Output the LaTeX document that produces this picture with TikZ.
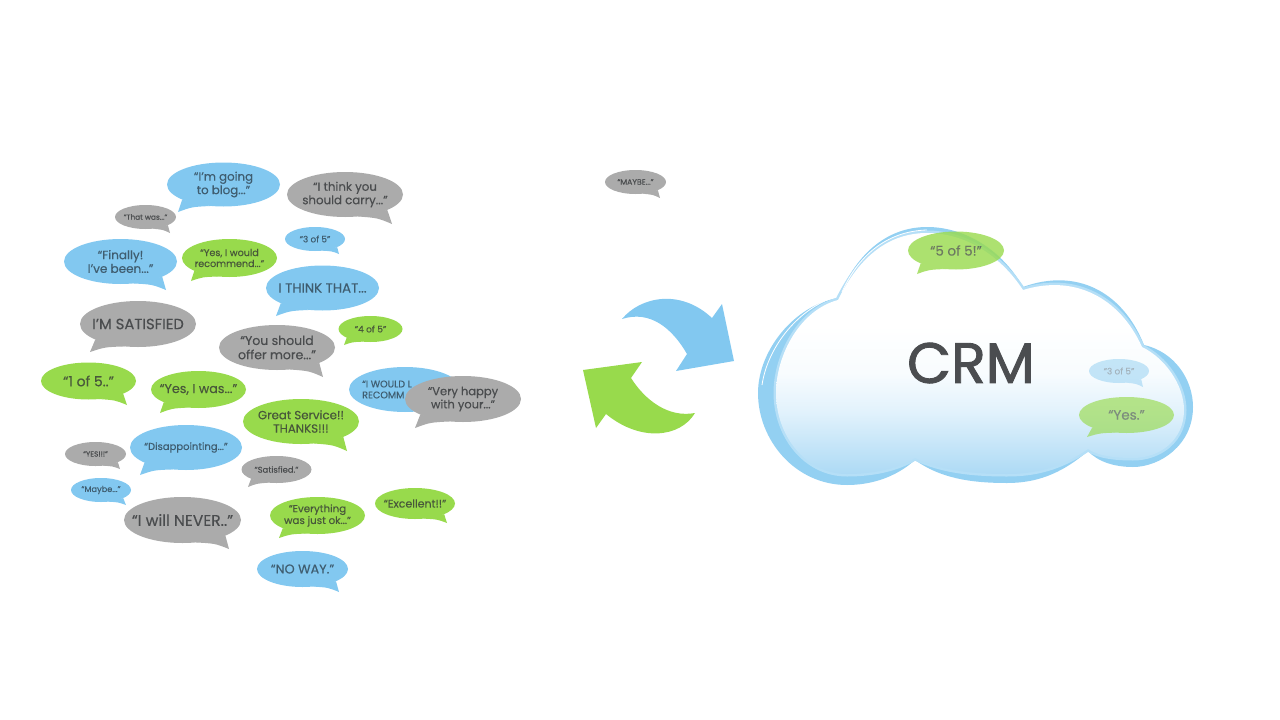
\documentclass[tikz,border=0pt]{standalone}
\usepackage{fontspec}
\setmainfont{Poppins}[FakeBold=0.35]
\newfontfamily\crmfont{Poppins}[FakeBold=1.6]
\usetikzlibrary{shapes.geometric,calc}
\definecolor{bblue}{HTML}{82C8F0}
\definecolor{bgreen}{HTML}{98DA4C}
\definecolor{bgrey}{HTML}{ABABAB}
\definecolor{tblue}{HTML}{3F5D70}
\definecolor{tgreen}{HTML}{48583A}
\definecolor{tgrey}{HTML}{4A4C4E}
\definecolor{crmtext}{HTML}{4B4D50}
\definecolor{rim}{HTML}{93D0F2}
\definecolor{rimsoft}{HTML}{B5DFF7}
\definecolor{cloudlow}{HTML}{ADDAF5}
\definecolor{cloudmid}{HTML}{E2F2FC}
\definecolor{cloudpale}{HTML}{F8FCFE}
\pgfdeclareverticalshading{cloudsh}{100bp}{color(0bp)=(cloudlow);color(25bp)=(cloudlow);color(38bp)=(cloudmid);color(46bp)=(cloudpale);color(56bp)=(white);color(100bp)=(white)}
\newcommand\saysize[1]{\fontsize{#1}{\dimexpr#1pt*114/100\relax}\selectfont}
\tikzset{
  bubble/.style={ellipse,inner sep=0pt,outer sep=0pt,draw=none},
  saytext/.style={inner sep=0pt,align=center,font=\saysize{#1}},
  blue bub/.style={bubble,fill=bblue},
  green bub/.style={bubble,fill=bgreen},
  grey bub/.style={bubble,fill=bgrey},
  blue txt/.style={text=tblue},
  green txt/.style={text=tgreen},
  grey txt/.style={text=tgrey},
}
\newcommand\tailL[3]{\fill[#3] (#1.200) -- (#2) .. controls ($(#2)!.5!(#1.240)!.22!(#1.200)$) .. (#1.240) -- cycle;}
\newcommand\tailR[3]{\fill[#3] (#1.340) -- (#2) .. controls ($(#2)!.5!(#1.300)!.22!(#1.340)$) .. (#1.300) -- cycle;}
% name, colour, centre, width, height, tip, side, size, text
\newcommand\bub[9]{%
  \node[#2 bub,minimum width=#4pt,minimum height=#5pt] (#1) at (#3) {};
  \csname tail#7\endcsname{#1}{#6}{b#2}
  \node[saytext=#8,#2 txt] (#1t) at (#1) {#9};
}
\def\innercloud{(838,300)
  .. controls (860,255) and (890,233) .. (927,233)
  .. controls (965,233) and (1000,255) .. (1023,290)
  .. controls (1075,274) and (1120,298) .. (1142,347)
  .. controls (1165,358) and (1184,385) .. (1184,410)
  .. controls (1184,440) and (1160,458) .. (1133,458)
  .. controls (1115,458) and (1098,456) .. (1088,449)
  .. controls (1060,468) and (1035,474) .. (1007,474)
  .. controls (970,474) and (940,470) .. (915,458)
  .. controls (895,470) and (870,474) .. (847,474)
  .. controls (805,474) and (776,435) .. (776,393)
  .. controls (776,355) and (800,310) .. (838,300) -- cycle}
\begin{document}
\begin{tikzpicture}[x=1pt,y=-1pt]
\useasboundingbox (0,0) rectangle (1280,720);

\bub{s1}{blue}{223.5,184.5}{113}{44}{178,212}{L}{11.8}{“I’m going\\to blog...”}
\bub{s2}{grey}{345,194.5}{116}{45}{392,224}{R}{11.8}{“I think you\\should carry...”}
\bub{s3}{grey}{145.5,217}{61}{24}{170,233}{R}{7.4}{“That was...”}
\bub{s4}{blue}{315,239}{60}{24}{339,254}{R}{8.8}{“3 of 5”}
\bub{s5}{blue}{120.5,261.5}{113}{45}{166,290}{R}{12}{“Finally!\\I’ve been...”}
\bub{s6}{green}{229.5,258}{95}{38}{191,281}{L}{9.6}{“Yes, I would\\recommend...”}
\bub{s7}{blue}{322.5,288}{113}{45}{276,316}{L}{13.3}{I THINK THAT...}
\bub{s8}{grey}{138,324}{116}{46}{90,352}{L}{14.8}{I’M SATISFIED}
\bub{s9}{green}{370.5,329}{64}{26}{344,345}{L}{9}{“4 of 5”}
\bub{s10}{grey}{277,347.5}{116}{45}{323,377}{R}{12.5}{“You should\\offer more...”}
\bub{s11}{green}{88.5,381}{95}{37}{127,405}{R}{14}{“1 of 5..”}
\bub{s12}{green}{198.5,389.5}{95}{37}{160,413}{L}{12.7}{“Yes, I was...”}
\node[blue bub,minimum width=112pt,minimum height=45pt] (s13) at (405,389.5) {};
\node[saytext=9.6,blue txt,align=left,anchor=west] (s13t) at (362,389.5) {“I WOULD L\\RECOMM};
\bub{s14}{grey}{463,399}{116}{46}{415,428}{L}{11.5}{“Very happy\\with your...”}
\bub{s15}{green}{301,421.5}{116}{45}{347,451}{R}{11.8}{Great Service!!\\THANKS!!!}
\bub{s16}{blue}{186,447.5}{112}{45}{140,475}{L}{10}{“Disappointing...”}
\bub{s17}{grey}{95.5,454}{61}{24}{120,469}{R}{7.4}{“YES!!!”}
\bub{s18}{grey}{276.5,469.5}{70}{27}{248,487}{L}{8.4}{“Satisfied.”}
\bub{s19}{blue}{101,490}{60}{24}{126,505}{R}{8.2}{“Maybe...”}
\bub{s20}{grey}{182.5,520}{117}{46}{229,549}{R}{15.5}{“I will NEVER..”}
\bub{s21}{green}{317.5,515.5}{95}{37}{279,538}{L}{10.3}{“Everything\\was just ok...”}
\bub{s22}{green}{415,503.5}{80}{31}{447,523}{R}{11}{“Excellent!!”}
\bub{s23}{blue}{302.5,569}{91}{36}{339,592}{R}{12.8}{“NO WAY.”}
\bub{s24}{grey}{635.5,182}{61}{24}{660,198}{R}{7.8}{“MAYBE...”}

% arrows
\fill[bblue] (622,319) .. controls (640,297) and (680,288) .. (712,318)
  -- (722,304) -- (734,361) -- (676,371) -- (687,354)
  .. controls (672,328) and (650,310) .. cycle;
\fill[bgreen] (583,370) -- (642,362) -- (631,378)
  .. controls (645,400) and (668,418) .. (695,413)
  .. controls (680,438) and (640,442) .. (606,414)
  -- (596,428) -- cycle;

% cloud
\fill[rim] (838,298)
  .. controls (858,250) and (890,227) .. (927,227)
  .. controls (965,227) and (1002,250) .. (1023,287)
  .. controls (1075,268) and (1122,290) .. (1144,345)
  .. controls (1175,352) and (1193,380) .. (1193,407)
  .. controls (1193,445) and (1160,467) .. (1133,467)
  .. controls (1115,467) and (1098,462) .. (1088,451)
  .. controls (1060,475) and (1035,483) .. (1007,483)
  .. controls (970,483) and (940,478) .. (915,460)
  .. controls (895,478) and (870,485) .. (847,485)
  .. controls (795,485) and (758,440) .. (758,393)
  .. controls (758,350) and (795,305) .. (838,298) -- cycle;
\draw[rimsoft,line width=5pt,line join=round] \innercloud;
\shade[shading=cloudsh] \innercloud;
\draw[white,line width=.8pt] (762,385) .. controls (768,345) and (800,308) .. (835,297);
\draw[white,line width=.8pt] (842,292) .. controls (860,252) and (890,231) .. (927,230);
\node[inner sep=0pt,text=crmtext,font=\crmfont\fontsize{57}{60}\selectfont] (crm) at (971,363) {CRM};

\begin{scope}[transparency group,opacity=.8]
\bub{s25}{green}{956,250.5}{96}{38}{917,274}{L}{13.5}{“5 of 5!”}
\end{scope}
\begin{scope}[transparency group,opacity=.45]
\bub{s26}{blue}{1119,371}{60}{24}{1143,387}{R}{8.8}{“3 of 5”}
\end{scope}
\begin{scope}[transparency group,opacity=.65]
\bub{s27}{green}{1126.5,415}{95}{36}{1087,437}{L}{13.5}{“Yes.”}
\end{scope}
\end{tikzpicture}
\end{document}
